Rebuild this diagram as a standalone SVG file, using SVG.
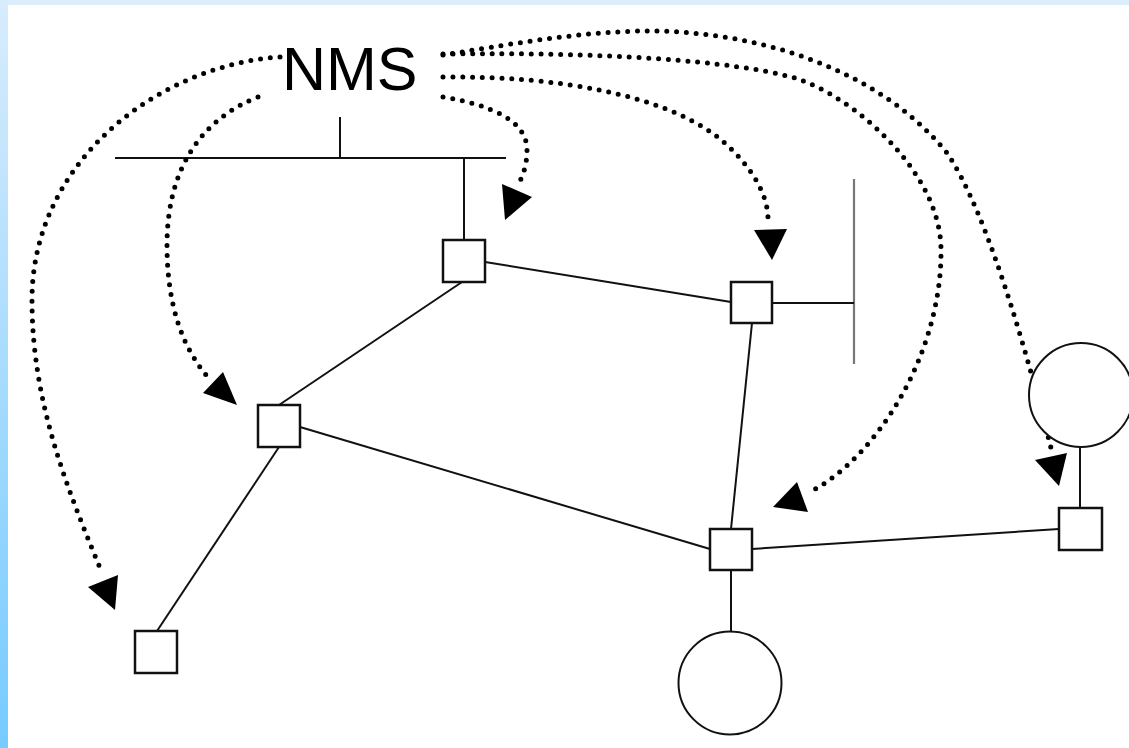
<svg xmlns="http://www.w3.org/2000/svg" width="1129" height="748" viewBox="0 0 1129 748">
  <defs>
    <linearGradient id="edgeGrad" x1="0" y1="0" x2="0" y2="1">
      <stop offset="0" stop-color="#d8ecfc"/>
      <stop offset="1" stop-color="#76cbff"/>
    </linearGradient>
    <style>
      .bg { fill: #ffffff; }
      .link { stroke: #111; stroke-width: 2; fill: none; }
      .bus { stroke: #111; stroke-width: 2; fill: none; }
      .bus-grey { stroke: #777; stroke-width: 2.2; fill: none; }
      .router { fill: #fff; stroke: #111; stroke-width: 2.5; }
      .host { fill: #fff; stroke: #111; stroke-width: 2; }
      .mgmt { stroke: #000; stroke-width: 5; fill: none; stroke-dasharray: 0 9.8; stroke-linecap: round; }
      .head { fill: #000; }
      .label { font-family: "Liberation Sans", Arial, sans-serif; font-size: 61px; fill: #000; }
    </style>
  </defs>

  <!-- page frame -->
  <rect class="bg" x="0" y="0" width="1129" height="748"/>
  <rect x="0" y="0" width="1129" height="5" fill="#dcedfb"/>
  <rect x="0" y="0" width="8" height="748" fill="url(#edgeGrad)"/>

  <!-- management station -->
  <g id="nms">
    <text class="label" x="282" y="90">NMS</text>
  </g>

  <!-- LAN segments -->
  <g id="lan-top">
    <line class="bus" x1="115" y1="158" x2="506" y2="158"/>
    <line class="bus" x1="340" y1="117" x2="340" y2="158"/>
  </g>
  <g id="lan-right">
    <line class="bus-grey" x1="854" y1="179" x2="854" y2="364"/>
  </g>

  <!-- connectors -->
  <g id="connectors">
    <!-- physical links -->
    <line class="link" x1="464" y1="158" x2="464" y2="240"/>
    <line class="link" x1="772" y1="303" x2="854" y2="303"/>
    <line class="link" x1="462" y1="282" x2="279" y2="405"/>
    <line class="link" x1="485" y1="262" x2="731" y2="302"/>
    <line class="link" x1="300" y1="427" x2="710" y2="549"/>
    <line class="link" x1="279" y1="447" x2="157" y2="631"/>
    <line class="link" x1="752" y1="323" x2="731" y2="529"/>
    <line class="link" x1="752" y1="549" x2="1059" y2="529"/>
    <line class="link" x1="731" y1="570" x2="731" y2="631"/>
    <line class="link" x1="1080" y1="447" x2="1080" y2="508"/>

    <!-- management polling paths -->
    <path class="mgmt" d="M280,57 C160,65 32,160 32,300 C32,400 65,483 100,568"/>
    <path class="mgmt" d="M258,97 C200,120 167,170 167,245 C167,310 185,350 207,376"/>
    <path class="mgmt" d="M443,97 C490,105 527,120 527,150 C527,165 523,175 519,183"/>
    <path class="mgmt" d="M443,77 C560,76 660,95 715,135 C745,158 768,190 768,219"/>
    <path class="mgmt" d="M443,54 C600,52 730,60 795,78 C850,95 941,170 941,250 C942,350 880,455 810,492"/>
    <path class="mgmt" d="M443,55 C500,46 580,31 648,31 C760,31 880,70 947,153 C987,212 1027,352 1052,452"/>

    <!-- arrowheads -->
    <polygon class="head" points="88,587 118,575 115,610"/>
    <polygon class="head" points="203,393 223,372 237,405"/>
    <polygon class="head" points="502,184 532,197 505,220"/>
    <polygon class="head" points="754,230 787,229 772,260"/>
    <polygon class="head" points="773,507 797,482 808,512"/>
    <polygon class="head" points="1035,460 1067,453 1059,486"/>
  </g>

  <!-- routers -->
  <g id="router-a"><rect class="router" x="443" y="240" width="42" height="42"/></g>
  <g id="router-b"><rect class="router" x="731" y="282" width="41" height="41"/></g>
  <g id="router-c"><rect class="router" x="258" y="405" width="42" height="42"/></g>
  <g id="router-d"><rect class="router" x="135" y="631" width="42" height="42"/></g>
  <g id="router-e"><rect class="router" x="710" y="529" width="42" height="41"/></g>
  <g id="router-f"><rect class="router" x="1059" y="508" width="43" height="42"/></g>

  <!-- hosts -->
  <g id="host-bottom"><circle class="host" cx="730" cy="683" r="51.5"/></g>
  <g id="host-right"><circle class="host" cx="1081" cy="395" r="52"/></g>
</svg>
